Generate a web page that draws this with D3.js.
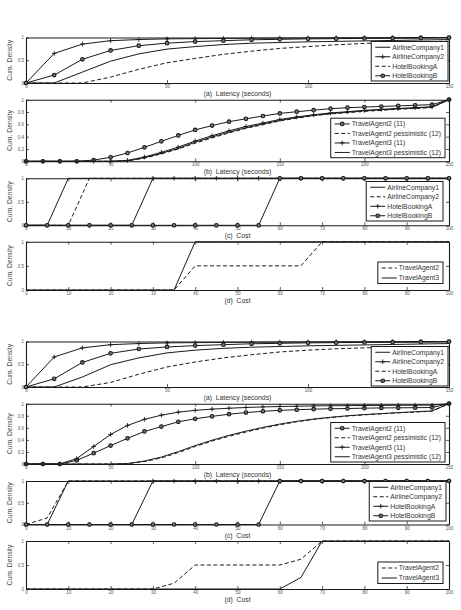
<!DOCTYPE html>
<html>
<head>
<meta charset="utf-8">
<script src="https://cdn.jsdelivr.net/npm/d3@7"></script>
<style>
  body { margin: 0; background: #fff; }
  svg text { font-family: "Liberation Sans", Arial, sans-serif; }
</style>
</head>
<body>
<div id="chart"></div>
<script>
// x values
const latencyA = [0, 10, 20, 30, 40, 50, 60, 70, 80, 90, 100, 110, 120, 130, 140, 150];
const latencyB = [0, 10, 20, 30, 40, 50, 60, 70, 80, 90, 100, 110, 120, 130, 140, 150, 160, 170, 180, 190, 200, 210, 220, 230, 240, 250];
const cost = [0, 5, 10, 15, 20, 25, 30, 35, 40, 45, 50, 55, 60, 65, 70, 75, 80, 85, 90, 95, 100];

// ticks
const ticksLatA = [0, 50, 100, 150];
const ticksLatB = [0, 50, 100, 150, 200, 250];
const ticksCost = [0, 10, 20, 30, 40, 50, 60, 70, 80, 90, 100];
const ticksY3 = [0, 0.5, 1];
const ticksY6 = [0, 0.2, 0.4, 0.6, 0.8, 1];

// (a) latency, first set
const a1Airline1 = [0, 0, 0.24, 0.48, 0.64, 0.745, 0.8, 0.845, 0.875, 0.89, 0.905, 0.915, 0.925, 0.935, 0.945, 0.955];
const a1Airline2 = [0, 0.65, 0.855, 0.93, 0.955, 0.97, 0.975, 0.98, 0.984, 0.987, 0.99, 0.992, 0.994, 0.996, 0.998, 1];
const a1HotelA = [0, 0, 0, 0.13, 0.3, 0.445, 0.54, 0.63, 0.7, 0.76, 0.8, 0.84, 0.87, 0.89, 0.905, 0.92];
const a1HotelB = [0, 0.175, 0.52, 0.715, 0.82, 0.876, 0.91, 0.93, 0.95, 0.96, 0.97, 0.975, 0.98, 0.985, 0.99, 1];

// (b) latency, first set
const b1TA2 = [0, 0, 0, 0, 0.02, 0.065, 0.135, 0.227, 0.324, 0.42, 0.51, 0.58, 0.643, 0.69, 0.735, 0.778, 0.805, 0.83, 0.854, 0.87, 0.88, 0.89, 0.9, 0.91, 0.92, 1];
const b1TA2p = [0, 0, 0, 0, 0, 0, 0.005, 0.05, 0.12, 0.2, 0.295, 0.38, 0.46, 0.535, 0.595, 0.655, 0.7, 0.74, 0.77, 0.79, 0.81, 0.828, 0.845, 0.858, 0.872, 1];
const b1TA3 = [0, 0, 0, 0, 0, 0, 0.015, 0.07, 0.146, 0.23, 0.33, 0.415, 0.495, 0.565, 0.62, 0.68, 0.72, 0.755, 0.785, 0.805, 0.827, 0.843, 0.858, 0.87, 0.886, 1];
const b1TA3p = [0, 0, 0, 0, 0, 0, 0.01, 0.06, 0.13, 0.21, 0.31, 0.395, 0.475, 0.545, 0.605, 0.665, 0.71, 0.745, 0.775, 0.797, 0.82, 0.837, 0.852, 0.864, 0.88, 1];

// (c) cost, first set
const c1Airline1 = [0, 0, 1, 1, 1, 1, 1, 1, 1, 1, 1, 1, 1, 1, 1, 1, 1, 1, 1, 1, 1];
const c1Airline2 = [0, 0, 0, 1, 1, 1, 1, 1, 1, 1, 1, 1, 1, 1, 1, 1, 1, 1, 1, 1, 1];
const c1HotelA = [0, 0, 0, 0, 0, 0, 1, 1, 1, 1, 1, 1, 1, 1, 1, 1, 1, 1, 1, 1, 1];
const c1HotelB = [0, 0, 0, 0, 0, 0, 0, 0, 0, 0, 0, 0, 1, 1, 1, 1, 1, 1, 1, 1, 1];

// (d) cost, first set
const d1TA2 = [0, 0, 0, 0, 0, 0, 0, 0, 0.5, 0.5, 0.5, 0.5, 0.5, 0.5, 1, 1, 1, 1, 1, 1, 1];
const d1TA3 = [0, 0, 0, 0, 0, 0, 0, 0, 1, 1, 1, 1, 1, 1, 1, 1, 1, 1, 1, 1, 1];

// (a) latency, second set
const a2Airline1 = [0, 0, 0.22, 0.49, 0.64, 0.75, 0.81, 0.85, 0.875, 0.89, 0.905, 0.915, 0.925, 0.935, 0.945, 0.955];
const a2Airline2 = [0, 0.66, 0.86, 0.93, 0.955, 0.97, 0.975, 0.98, 0.984, 0.987, 0.99, 0.992, 0.994, 0.996, 0.998, 1];
const a2HotelA = [0, 0, 0, 0.1, 0.28, 0.44, 0.55, 0.64, 0.71, 0.77, 0.81, 0.84, 0.86, 0.875, 0.885, 0.89];
const a2HotelB = [0, 0.18, 0.54, 0.74, 0.835, 0.88, 0.91, 0.93, 0.95, 0.96, 0.97, 0.975, 0.98, 0.985, 0.99, 1];

// (b) latency, second set
const b2TA2 = [0, 0, 0, 0.06, 0.18, 0.305, 0.426, 0.54, 0.62, 0.7, 0.75, 0.79, 0.826, 0.853, 0.874, 0.89, 0.9, 0.91, 0.916, 0.92, 0.926, 0.93, 0.932, 0.934, 0.937, 1];
const b2TA2p = [0, 0, 0, 0, 0, 0, 0.005, 0.04, 0.1, 0.19, 0.29, 0.38, 0.46, 0.53, 0.595, 0.65, 0.7, 0.74, 0.77, 0.795, 0.815, 0.832, 0.848, 0.862, 0.876, 1];
const b2TA3 = [0, 0, 0, 0.09, 0.29, 0.49, 0.64, 0.74, 0.81, 0.86, 0.89, 0.91, 0.925, 0.937, 0.947, 0.953, 0.958, 0.963, 0.966, 0.968, 0.97, 0.972, 0.974, 0.975, 0.977, 1];
const b2TA3p = [0, 0, 0, 0, 0, 0, 0.008, 0.05, 0.115, 0.205, 0.305, 0.395, 0.475, 0.545, 0.607, 0.662, 0.708, 0.745, 0.775, 0.8, 0.82, 0.836, 0.852, 0.866, 0.88, 1];

// (c) cost, second set
const c2Airline1 = [0, 0, 1, 1, 1, 1, 1, 1, 1, 1, 1, 1, 1, 1, 1, 1, 1, 1, 1, 1, 1];
const c2Airline2 = [0, 0.15, 1, 1, 1, 1, 1, 1, 1, 1, 1, 1, 1, 1, 1, 1, 1, 1, 1, 1, 1];
const c2HotelA = [0, 0, 0, 0, 0, 0, 1, 1, 1, 1, 1, 1, 1, 1, 1, 1, 1, 1, 1, 1, 1];
const c2HotelB = [0, 0, 0, 0, 0, 0, 0, 0, 0, 0, 0, 0, 1, 1, 1, 1, 1, 1, 1, 1, 1];

// (d) cost, second set
const d2TA2 = [0, 0, 0, 0, 0, 0, 0, 0.12, 0.5, 0.5, 0.5, 0.5, 0.5, 0.62, 1, 1, 1, 1, 1, 1, 1];
const d2TA3 = [0, 0, 0, 0, 0, 0, 0, 0, 0, 0, 0, 0, 0, 0.24, 1, 1, 1, 1, 1, 1, 1];

const namesService = ["AirlineCompany1", "AirlineCompany2", "HotelBookingA", "HotelBookingB"];
const namesLatAgent = ["TravelAgent2 (11)", "TravelAgent2 pessimistic (12)", "TravelAgent3 (11)", "TravelAgent3 pessimistic (12)"];
const namesCostAgent = ["TravelAgent2", "TravelAgent3"];

const DASH = "4,2.5";

// panel layout (box top/bottom, legend corner) + series
const panels = [
  { top: 37.5, bottom: 83, xd: [0, 150], xt: ticksLatA, yt: ticksY3, title: "(a)  Latency (seconds)", lgRight: 448, lgBottom: 81,
    series: [
      { name: namesService[0], xs: latencyA, ys: a1Airline1, dash: null, marker: null },
      { name: namesService[1], xs: latencyA, ys: a1Airline2, dash: null, marker: "plus" },
      { name: namesService[2], xs: latencyA, ys: a1HotelA, dash: DASH, marker: null },
      { name: namesService[3], xs: latencyA, ys: a1HotelB, dash: null, marker: "circle" }
    ] },
  { top: 99.7, bottom: 161.3, xd: [0, 250], xt: ticksLatB, yt: ticksY6, title: "(b)  Latency (seconds)", lgRight: 445, lgBottom: 157.7,
    series: [
      { name: namesLatAgent[0], xs: latencyB, ys: b1TA2, dash: null, marker: "circle" },
      { name: namesLatAgent[1], xs: latencyB, ys: b1TA2p, dash: DASH, marker: null },
      { name: namesLatAgent[2], xs: latencyB, ys: b1TA3, dash: null, marker: "plus" },
      { name: namesLatAgent[3], xs: latencyB, ys: b1TA3p, dash: null, marker: null }
    ] },
  { top: 178.3, bottom: 225.3, xd: [0, 100], xt: ticksCost, yt: ticksY3, title: "(c)  Cost", lgRight: 443, lgBottom: 221,
    series: [
      { name: namesService[0], xs: cost, ys: c1Airline1, dash: null, marker: null },
      { name: namesService[1], xs: cost, ys: c1Airline2, dash: DASH, marker: null },
      { name: namesService[2], xs: cost, ys: c1HotelA, dash: null, marker: "plus" },
      { name: namesService[3], xs: cost, ys: c1HotelB, dash: null, marker: "circle" }
    ] },
  { top: 241.7, bottom: 290, xd: [0, 100], xt: ticksCost, yt: ticksY3, title: "(d)  Cost", lgRight: 443, lgBottom: 283.5,
    series: [
      { name: namesCostAgent[0], xs: cost, ys: d1TA2, dash: DASH, marker: null },
      { name: namesCostAgent[1], xs: cost, ys: d1TA3, dash: null, marker: null }
    ] },
  { top: 341.5, bottom: 387, xd: [0, 150], xt: ticksLatA, yt: ticksY3, title: "(a)  Latency (seconds)", lgRight: 448, lgBottom: 386,
    series: [
      { name: namesService[0], xs: latencyA, ys: a2Airline1, dash: null, marker: null },
      { name: namesService[1], xs: latencyA, ys: a2Airline2, dash: null, marker: "plus" },
      { name: namesService[2], xs: latencyA, ys: a2HotelA, dash: DASH, marker: null },
      { name: namesService[3], xs: latencyA, ys: a2HotelB, dash: null, marker: "circle" }
    ] },
  { top: 403.7, bottom: 464, xd: [0, 250], xt: ticksLatB, yt: ticksY6, title: "(b)  Latency (seconds)", lgRight: 445, lgBottom: 462,
    series: [
      { name: namesLatAgent[0], xs: latencyB, ys: b2TA2, dash: null, marker: "circle" },
      { name: namesLatAgent[1], xs: latencyB, ys: b2TA2p, dash: DASH, marker: null },
      { name: namesLatAgent[2], xs: latencyB, ys: b2TA3, dash: null, marker: "plus" },
      { name: namesLatAgent[3], xs: latencyB, ys: b2TA3p, dash: null, marker: null }
    ] },
  { top: 481, bottom: 524.5, xd: [0, 100], xt: ticksCost, yt: ticksY3, title: "(c)  Cost", lgRight: 446, lgBottom: 521,
    series: [
      { name: namesService[0], xs: cost, ys: c2Airline1, dash: null, marker: null },
      { name: namesService[1], xs: cost, ys: c2Airline2, dash: DASH, marker: null },
      { name: namesService[2], xs: cost, ys: c2HotelA, dash: null, marker: "plus" },
      { name: namesService[3], xs: cost, ys: c2HotelB, dash: null, marker: "circle" }
    ] },
  { top: 541, bottom: 589, xd: [0, 100], xt: ticksCost, yt: ticksY3, title: "(d)  Cost", lgRight: 443, lgBottom: 583.5,
    series: [
      { name: namesCostAgent[0], xs: cost, ys: d2TA2, dash: DASH, marker: null },
      { name: namesCostAgent[1], xs: cost, ys: d2TA3, dash: null, marker: null }
    ] }
];

const W = 461, H = 610;
const left = 26, right = 449;
const ink = "#1a1a1a";

const svg = d3.select("#chart").append("svg")
  .attr("width", W)
  .attr("height", H)
  .attr("viewBox", `0 0 ${W} ${H}`);

function drawMarker(g, type, cx, cy) {
  if (type === "circle") {
    g.append("circle")
      .attr("cx", cx).attr("cy", cy).attr("r", 1.8)
      .attr("fill", "#777").attr("stroke", ink).attr("stroke-width", 1.1);
  } else if (type === "plus") {
    g.append("path")
      .attr("d", `M${cx - 2.3},${cy}H${cx + 2.3}M${cx},${cy - 2.3}V${cy + 2.3}`)
      .attr("stroke", ink).attr("stroke-width", 0.9);
  }
}

panels.forEach(p => {
  const g = svg.append("g");
  const x = d3.scaleLinear().domain(p.xd).range([left, right]);
  const y = d3.scaleLinear().domain([0, 1]).range([p.bottom, p.top]);

  // box with ticks on all four sides, pointing in
  const fmtY = d => (d === 0 || d === 1) ? String(d) : d3.format(".1f")(d);
  const axes = [
    g.append("g").attr("transform", `translate(0,${p.bottom})`)
      .call(d3.axisBottom(x).tickValues(p.xt).tickSizeInner(-3).tickSizeOuter(0).tickPadding(2)),
    g.append("g").attr("transform", `translate(0,${p.top})`)
      .call(d3.axisTop(x).tickValues(p.xt).tickSizeInner(-3).tickSizeOuter(0).tickFormat("")),
    g.append("g").attr("transform", `translate(${left},0)`)
      .call(d3.axisLeft(y).tickValues(p.yt).tickSizeInner(-3).tickSizeOuter(0).tickPadding(2).tickFormat(fmtY)),
    g.append("g").attr("transform", `translate(${right},0)`)
      .call(d3.axisRight(y).tickValues(p.yt).tickSizeInner(-3).tickSizeOuter(0).tickFormat(""))
  ];
  axes.forEach(a => {
    a.select(".domain").attr("stroke", ink).attr("stroke-width", 1.1);
    a.selectAll(".tick line").attr("stroke", ink).attr("stroke-width", 0.7);
    a.selectAll(".tick text").attr("fill", "#555").style("font-size", "4.5px")
      .style("font-family", "'Liberation Sans', Arial, sans-serif");
  });

  // lines
  const line = d3.line().x(d => x(d[0])).y(d => y(d[1]));
  p.series.forEach(s => {
    const pts = s.xs.map((v, i) => [v, s.ys[i]]);
    g.append("path")
      .datum(pts)
      .attr("fill", "none")
      .attr("stroke", ink)
      .attr("stroke-width", 1)
      .attr("stroke-dasharray", s.dash)
      .attr("d", line);
  });
  p.series.forEach(s => {
    if (!s.marker) return;
    s.xs.forEach((v, i) => drawMarker(g, s.marker, x(v), y(s.ys[i])));
  });

  // y label
  g.append("text")
    .attr("transform", `translate(12,${(p.top + p.bottom) / 2}) rotate(-90)`)
    .attr("text-anchor", "middle")
    .attr("fill", "#444")
    .style("font-size", "6.8px")
    .text("Cum. Density");

  // panel title
  g.append("text")
    .attr("x", (left + right) / 2)
    .attr("y", p.bottom + 13)
    .attr("text-anchor", "middle")
    .attr("fill", "#333")
    .style("font-size", "6.8px")
    .style("white-space", "pre")
    .text(p.title);

  // legend
  const rowH = p.series.length === 4 ? 9.5 : 10;
  const lg = g.append("g");
  const box = lg.append("rect");
  const rowY = i => p.lgBottom - (p.series.length - i - 0.5) * rowH - 0.5;
  const texts = p.series.map((s, i) => lg.append("text")
    .attr("y", rowY(i))
    .attr("dy", "0.35em")
    .attr("fill", "#333")
    .style("font-size", "6.8px")
    .text(s.name));
  const tw = d3.max(texts, t => t.node().getComputedTextLength());
  const lgW = tw + 25;
  const lgX = p.lgRight - lgW;
  const lgH = rowH * p.series.length + 1.5;
  box.attr("x", lgX).attr("y", p.lgBottom - lgH)
    .attr("width", lgW).attr("height", lgH)
    .attr("fill", "#fff").attr("stroke", ink).attr("stroke-width", 1);
  texts.forEach(t => t.attr("x", lgX + 21));
  p.series.forEach((s, i) => {
    lg.append("line")
      .attr("x1", lgX + 4).attr("x2", lgX + 19)
      .attr("y1", rowY(i)).attr("y2", rowY(i))
      .attr("stroke", ink).attr("stroke-width", 1)
      .attr("stroke-dasharray", s.dash);
    if (s.marker) drawMarker(lg, s.marker, lgX + 11.5, rowY(i));
  });
});
</script>
</body>
</html>
